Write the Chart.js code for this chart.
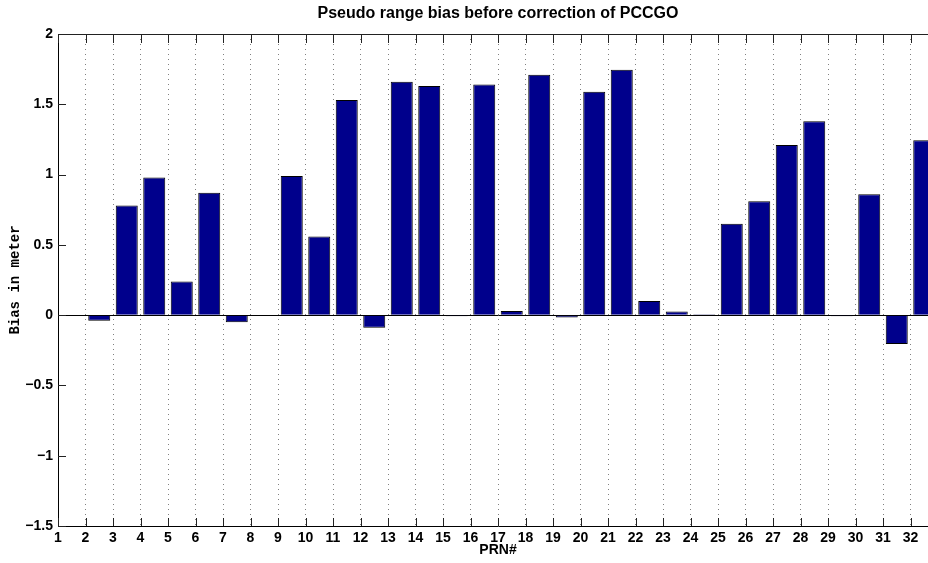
<!DOCTYPE html>
<html>
<head>
<meta charset="utf-8">
<script src="https://cdn.jsdelivr.net/npm/chart.js@4.4.1/dist/chart.umd.min.js"></script>
<style>
    html, body { margin: 0; padding: 0; background: #fff; overflow: hidden; }
    #wrap { width: 938px; height: 563px; }
</style>
</head>
<body>
<div id="wrap"><canvas id="biasChart" width="938" height="563"></canvas></div>
<script>
// PRN numbers (x axis) and pseudo range bias per PRN
const prn = [1, 2, 3, 4, 5, 6, 7, 8, 9, 10, 11, 12, 13, 14, 15, 16,
             17, 18, 19, 20, 21, 22, 23, 24, 25, 26, 27, 28, 29, 30, 31, 32];
const bias = [null, -0.04, 0.78, 0.98, 0.24, 0.87, -0.05, null,
              0.99, 0.56, 1.53, -0.09, 1.66, 1.63, -0.006, 1.64,
              0.03, 1.71, -0.016, 1.59, 1.745, 0.10, 0.026, 0.002,
              0.65, 0.81, 1.21, 1.38, -0.004, 0.86, -0.205, 1.245];
const yTicks = [-1.5, -1, -0.5, 0, 0.5, 1, 1.5, 2];

const labelFont = 'Liberation Sans, Arial, Helvetica, sans-serif';

// MATLAB style tick marks pointing inward + top frame line
const innerTicks = {
    id: 'innerTicks',
    afterDraw(chart) {
        const { ctx, chartArea: a, scales: { x, y } } = chart;
        ctx.save();
        ctx.strokeStyle = '#222';
        ctx.lineWidth = 1;
        ctx.beginPath();
        ctx.moveTo(a.left, a.top + 0.5);
        ctx.lineTo(a.right, a.top + 0.5);
        x.ticks.forEach(t => {
            const px = Math.round(x.getPixelForValue(t.value)) + 0.5;
            ctx.moveTo(px, a.bottom);
            ctx.lineTo(px, a.bottom - 8);
            ctx.moveTo(px, a.top);
            ctx.lineTo(px, a.top + 9);
        });
        y.ticks.forEach(t => {
            const py = Math.round(y.getPixelForValue(t.value)) + 0.5;
            ctx.moveTo(a.left, py);
            ctx.lineTo(a.left + 8, py);
        });
        ctx.stroke();
        ctx.restore();
    }
};

document.addEventListener('DOMContentLoaded', function() {
    const ctx = document.getElementById('biasChart');

    new Chart(ctx, {
        type: 'bar',
        data: {
            datasets: [{
                label: 'Bias',
                // bars sit between PRN ticks, like the original figure
                data: prn.map((p, i) => ({ x: p + 0.5, y: bias[i] })),
                backgroundColor: '#00008C',
                borderColor: '#000000',
                borderWidth: 1,
                barPercentage: 0.8,
                categoryPercentage: 1.0,
                minBarLength: 1,
                clip: 0
            }]
        },
        options: {
            responsive: false,
            animation: false,
            layout: { padding: 0 },
            plugins: {
                legend: { display: false },
                tooltip: { enabled: false },
                title: {
                    display: true,
                    text: 'Pseudo range bias before correction of PCCGO',
                    fullSize: false,
                    color: '#000',
                    font: { family: labelFont, size: 16, weight: 'bold', lineHeight: 1.2 },
                    padding: { top: 4, bottom: 10.8 }
                }
            },
            scales: {
                x: {
                    type: 'linear',
                    min: 1,
                    max: 33,
                    offset: false,
                    afterBuildTicks(scale) {
                        scale.ticks = prn.map(v => ({ value: v }));
                    },
                    afterFit(scale) { scale.height = 37; },
                    ticks: {
                        autoSkip: false,
                        maxRotation: 0,
                        padding: 4,
                        color: '#000',
                        font: { family: labelFont, size: 14, weight: 'bold' }
                    },
                    grid: {
                        offset: false,
                        drawTicks: false,
                        color: '#808080',
                        lineWidth: 1
                    },
                    border: { display: true, color: '#000', width: 1, dash: [1, 4] },
                    title: {
                        display: true,
                        text: 'PRN#',
                        color: '#000',
                        font: { family: labelFont, size: 14, weight: 'bold', lineHeight: 1.2 },
                        padding: { top: 0, bottom: 4 }
                    }
                },
                y: {
                    min: -1.5,
                    max: 2,
                    afterBuildTicks(scale) {
                        scale.ticks = yTicks.map(v => ({ value: v }));
                    },
                    afterFit(scale) { scale.width = 58; },
                    ticks: {
                        padding: 5,
                        color: '#000',
                        font: { family: labelFont, size: 14, weight: 'bold' },
                        callback: v => String(v).replace('-', '\u2212')
                    },
                    grid: {
                        drawTicks: false,
                        color: c => (c.tick && c.tick.value === 0) ? '#000' : 'rgba(0,0,0,0)',
                        lineWidth: 1
                    },
                    border: { display: true, color: '#000', width: 1 },
                    title: {
                        display: true,
                        text: 'Bias in meter',
                        color: '#000',
                        font: { family: 'Liberation Mono, Courier New, monospace', size: 14, weight: 'bold', lineHeight: 1.2 },
                        padding: { top: 7, bottom: 0 }
                    }
                }
            }
        },
        plugins: [innerTicks]
    });
});
</script>
</body>
</html>
